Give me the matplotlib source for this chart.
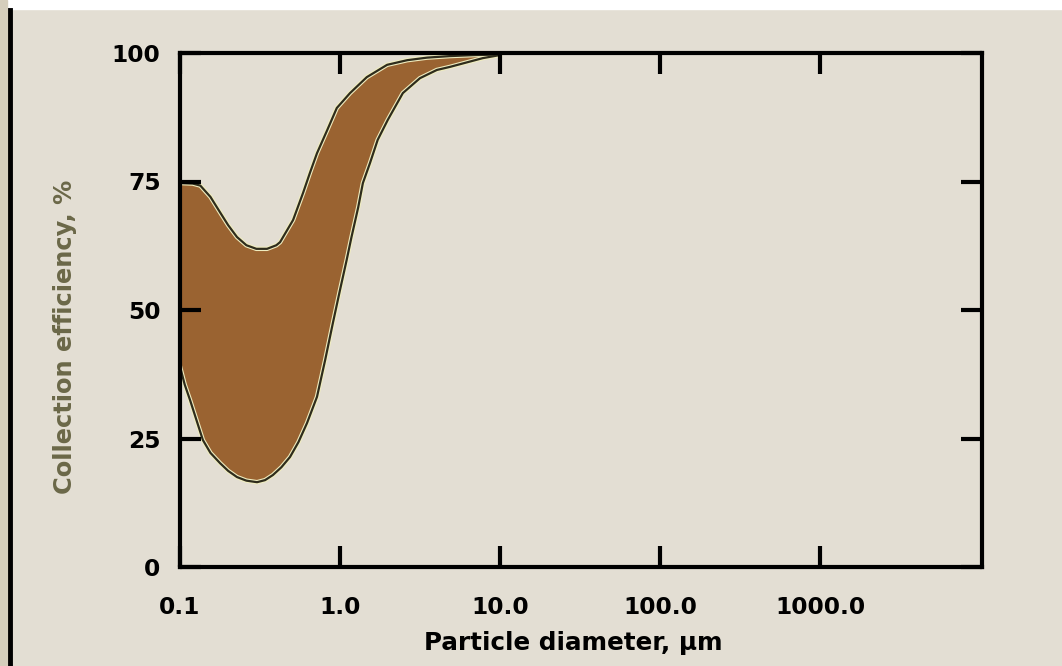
import numpy as np
import matplotlib.pyplot as plt

# upper and lower bounds of the collection-efficiency band
x_upper = [0.1, 0.12, 0.134, 0.155, 0.178, 0.2, 0.227, 0.26, 0.30, 0.35, 0.40, 0.422,
           0.509, 0.588, 0.649, 0.718, 0.832, 0.955, 1.155, 1.47, 1.97, 2.63, 3.5, 4.87, 7.0, 10.0]
y_upper = [74.7, 74.6, 74.2, 72.0, 69.0, 66.5, 64.2, 62.6, 61.9, 61.9, 62.6, 63.2,
           67.5, 72.8, 76.7, 80.5, 85.0, 89.3, 92.2, 95.3, 97.7, 98.6, 99.1, 99.4, 99.6, 99.7]
x_lower = [0.1, 0.107, 0.1155, 0.127, 0.139, 0.155, 0.178, 0.2, 0.227, 0.26, 0.303, 0.34,
           0.381, 0.43, 0.487, 0.55, 0.622, 0.718, 0.808, 0.903, 1.0, 1.10, 1.18, 1.30,
           1.39, 1.54, 1.72, 1.99, 2.47, 3.16, 4.03, 4.87, 7.8, 10.0]
y_lower = [39.0, 35.5, 32.5, 28.5, 24.7, 22.2, 20.2, 18.7, 17.5, 16.8, 16.5, 16.9,
           17.9, 19.4, 21.4, 24.3, 28.0, 33.1, 40.3, 47.5, 53.9, 59.7, 64.2, 70.0,
           74.7, 78.6, 83.1, 87.0, 92.2, 95.1, 96.7, 97.3, 99.0, 99.6]

xticks = [0.1, 1.0, 10.0, 100.0, 1000.0]
xticklabels = ["0.1", "1.0", "10.0", "100.0", "1000.0"]
yticks = [0, 25, 50, 75, 100]

bg = "#e3ded3"
fig = plt.figure(figsize=(10.62, 6.66), dpi=100, facecolor=bg)
# white strip on top, darker strip and black rule at the left edge
fig.patches.append(plt.Rectangle((0, 1 - 9/666), 1, 9/666, transform=fig.transFigure,
                                 color="white", zorder=0))
fig.patches.append(plt.Rectangle((0, 0), 7/1062, 1, transform=fig.transFigure,
                                 color="#d5cebc", zorder=0))
fig.add_artist(plt.Line2D([10/1062, 10/1062], [0, 1 - 10/666], transform=fig.transFigure,
                          color="black", linewidth=3.5))

ax = fig.add_axes([180/1062, 1 - 567/666, 802/1062, 514/666])
ax.set_facecolor(bg)
ax.set_axisbelow(False)
ax.set_xscale("log")
ax.set_xlim(0.1, 1e4 * 10 ** (2/160))
ax.set_ylim(0, 100)

xs = np.concatenate([x_upper, x_lower[::-1]])
ys = np.concatenate([y_upper, y_lower[::-1]])
ax.fill(xs, ys, color="#9a6331", linewidth=0, zorder=1)
ax.plot(x_upper, y_upper, color="#f0edc0", linewidth=3.2, zorder=1.2)
ax.plot(x_lower, y_lower, color="#f0edc0", linewidth=3.2, zorder=1.2)
ax.plot(x_upper, y_upper, color="#2e2c1c", linewidth=1.6, zorder=1.4)
ax.plot(x_lower, y_lower, color="#2e2c1c", linewidth=1.6, zorder=1.4)

ax.set_xticks(xticks)
ax.set_xticklabels(xticklabels)
ax.xaxis.set_minor_locator(plt.NullLocator())
ax.set_yticks(yticks)
for s in ax.spines.values():
    s.set_linewidth(3)
    s.set_zorder(5)
ax.tick_params(axis="both", direction="in", length=15, width=3, top=True, right=True,
               labelsize=16.8, colors="black")
ax.tick_params(axis="y", pad=14)
ax.tick_params(axis="x", pad=21)
for lab in ax.get_xticklabels() + ax.get_yticklabels():
    lab.set_fontweight("bold")

ax.set_xlabel("Particle diameter, µm", fontsize=17.7, fontweight="bold")
ax.xaxis.set_label_coords(0.49, -0.124)
ax.set_ylabel("Collection efficiency, %", fontsize=17.4, fontweight="bold", color="#6b6848")
ax.yaxis.set_label_coords(-0.128, 0.4475)

fig.savefig("out.png", dpi=100, facecolor=bg)
